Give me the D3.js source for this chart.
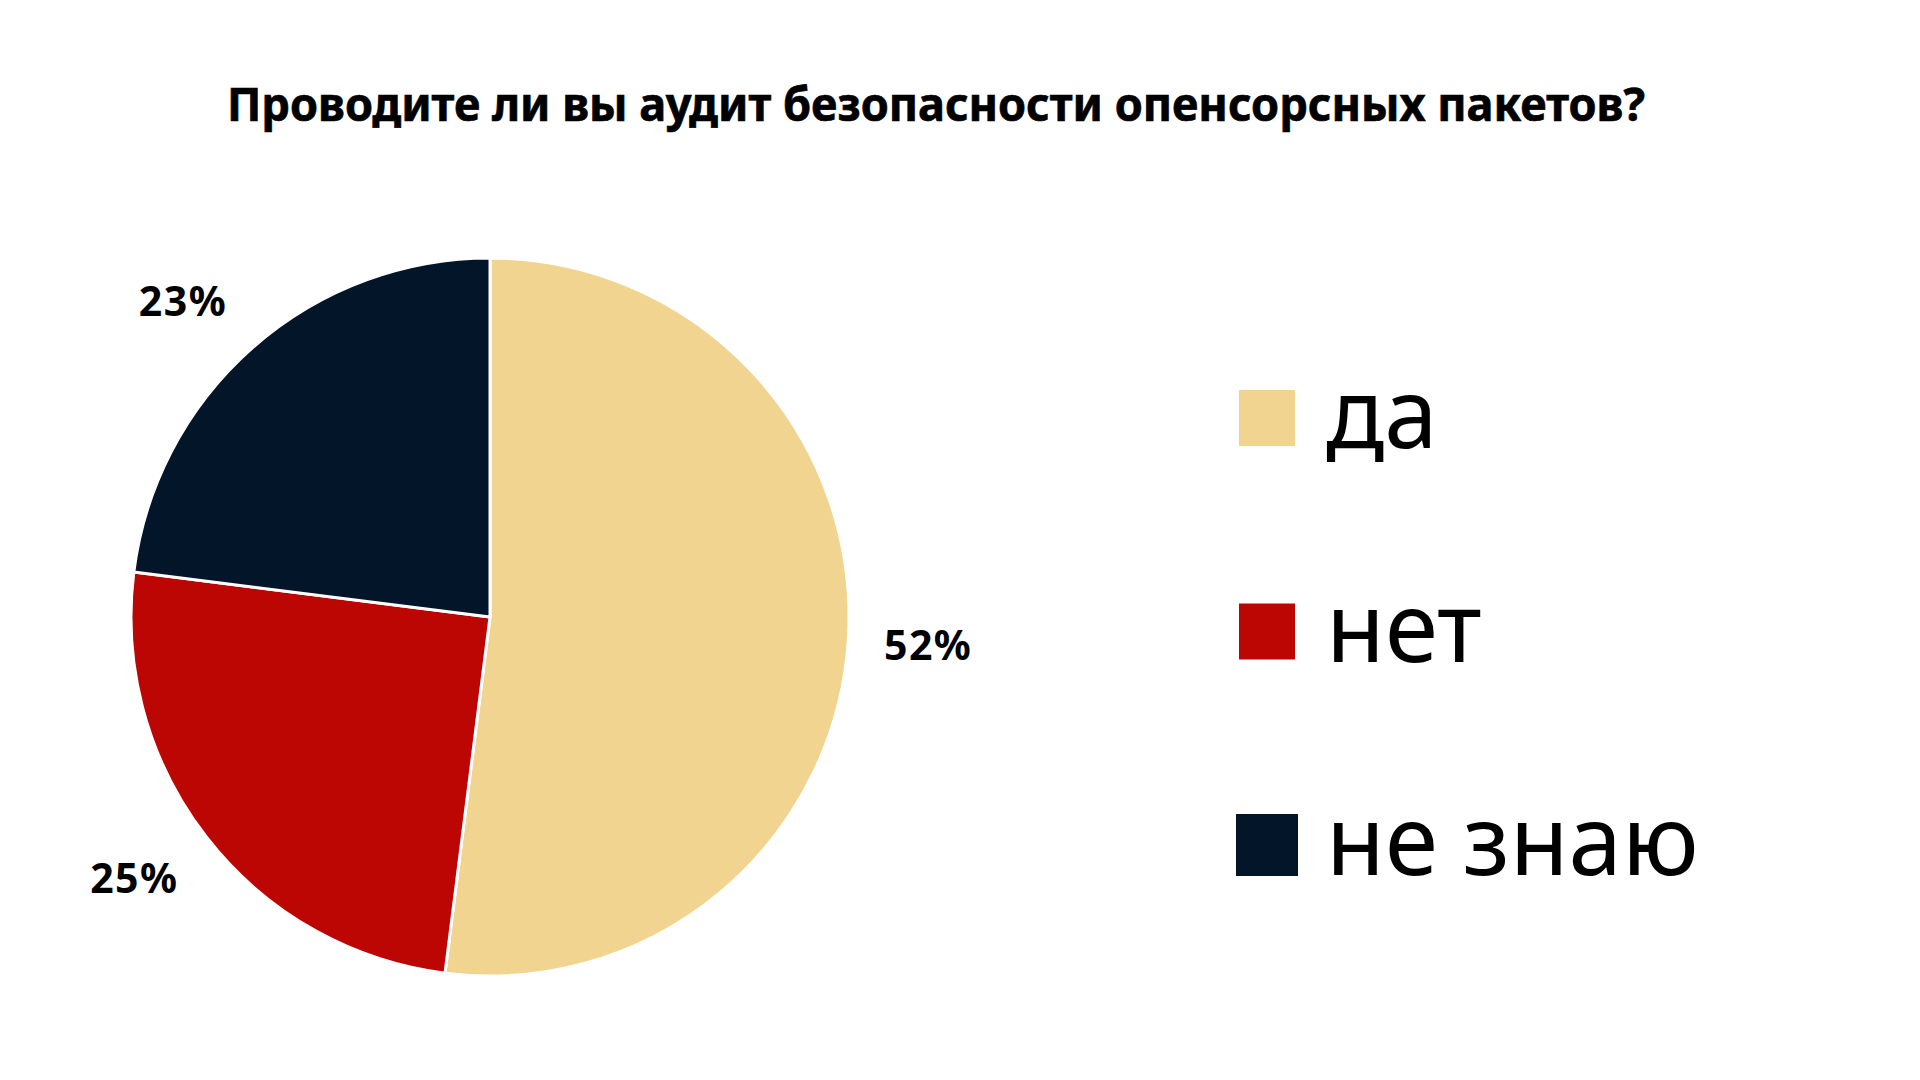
<!DOCTYPE html>
<html><head><meta charset="utf-8">
<script src="https://cdn.jsdelivr.net/npm/d3@7"></script>
<style>html,body{margin:0;padding:0;background:#fff;}svg{display:block;}</style>
</head><body>
<svg id="c" width="1920" height="1080"></svg>
<script>
const title = "Проводите ли вы аудит безопасности опенсорсных пакетов?";
const categories = ["да", "нет", "не знаю"];
const values = [52, 25, 23];
const labels = ["52%", "25%", "23%"];
const colors = ["#F1D48F", "#BC0603", "#031528"];

const svg = d3.select("#c");
svg.append("rect").attr("width",1920).attr("height",1080).attr("fill","#fff");

svg.append("text")
  .attr("x", 227).attr("y", 121)
  .attr("textLength", 1418).attr("lengthAdjust", "spacingAndGlyphs")
  .style("font-family", "'Noto Sans','Open Sans',sans-serif")
  .style("font-weight", "bold").style("font-size", "46px")
  .attr("fill","#000").attr("stroke","#000").attr("stroke-width",0.7)
  .text(title);

const cx = 490, cy = 617, R = 359;
const data = categories.map((c,i)=>({cat:c, v:values[i], lab:labels[i], col:colors[i]}));
const pie = d3.pie().value(d=>d.v).sort(null);
const arc = d3.arc().innerRadius(0).outerRadius(R);
const labelArc = d3.arc().innerRadius(440).outerRadius(440);
const nudge = [[-1,1],[-8,-8],[-16,14]];
const g = svg.append("g").attr("transform", `translate(${cx},${cy})`);
const arcs = pie(data);
g.selectAll("path").data(arcs).join("path")
  .attr("d", arc).attr("fill", d=>d.data.col)
  .attr("stroke","#fff").attr("stroke-width",3).attr("stroke-linejoin","round");
g.selectAll("text").data(arcs).join("text")
  .attr("transform", (d,i)=>{const c = labelArc.centroid(d); return `translate(${c[0]+nudge[i][0]},${c[1]+nudge[i][1]})`;})
  .attr("text-anchor","middle").attr("dy","0.36em")
  .style("font-family","'Noto Sans','Open Sans',sans-serif")
  .style("font-weight","bold").style("font-size","41px").style("letter-spacing","1.5px")
  .attr("fill","#000")
  .text(d=>d.data.lab);

const legY = d3.scalePoint().domain(categories).range([418, 845]);
const lg = svg.append("g");
const items = lg.selectAll("g").data(data).join("g")
  .attr("transform", d=>`translate(0,${legY(d.cat)})`);
const sz = (i)=> i===2 ? 62 : 56;
items.append("rect")
  .attr("x",(d,i)=>1267 - sz(i)/2).attr("y",(d,i)=>-sz(i)/2)
  .attr("width",(d,i)=>sz(i)).attr("height",(d,i)=>sz(i))
  .attr("fill", d=>d.col);
items.append("text").attr("x", 1326).attr("y", 30)
  .style("font-family","'Noto Sans','Open Sans',sans-serif")
  .style("font-size","96px").attr("fill","#000")
  .text(d=>d.cat);
</script>
</body></html>
